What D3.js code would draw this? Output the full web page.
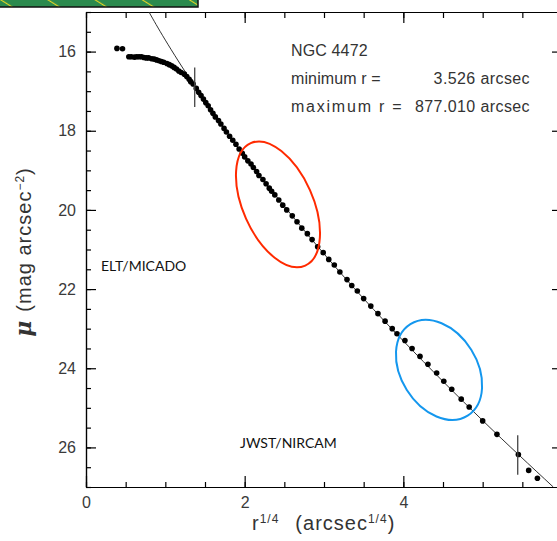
<!DOCTYPE html>
<html>
<head>
<meta charset="utf-8">
<script src="https://cdn.jsdelivr.net/npm/d3@7"></script>
<style>
  body { margin: 0; background: #fff; }
  .tick text { font-family: "Liberation Sans", sans-serif; font-size: 16px; fill: #3a3a3a; }
  .axis path, .axis line { stroke: #000; stroke-width: 1.2; }
  .note { font-family: "Liberation Sans", sans-serif; font-size: 16px; fill: #333; letter-spacing: 0.4px; }
  .title { font-family: "Liberation Sans", sans-serif; font-size: 20px; fill: #333; letter-spacing: 1px; }
  .tag { font-family: Lato, sans-serif; font-size: 14px; fill: #111; }
</style>
</head>
<body>
<div id="chart"></div>
<script>
// surface brightness profile of NGC 4472
const r4Values = [
  0.39, 0.46, 0.54, 0.57, 0.61, 0.64, 0.67, 0.70, 0.73, 0.76, 0.79, 0.83, 0.86, 0.89,
  0.92, 0.95, 0.98, 1.02, 1.05, 1.08, 1.11, 1.14, 1.17, 1.20, 1.24, 1.27, 1.30, 1.32,
  1.35, 1.39, 1.42, 1.45, 1.48, 1.51, 1.54, 1.57, 1.60, 1.63, 1.67, 1.70, 1.74, 1.77,
  1.81, 1.85, 1.89, 1.93, 1.97, 2.00, 2.04, 2.08, 2.11, 2.15, 2.18, 2.23, 2.27, 2.31,
  2.34, 2.38, 2.43, 2.48, 2.53, 2.60, 2.66, 2.72, 2.79, 2.85, 2.92, 2.99, 3.06, 3.13,
  3.20, 3.29, 3.35, 3.42, 3.50, 3.59, 3.68, 3.77, 3.86, 3.92, 4.02, 4.11, 4.21, 4.31,
  4.42, 4.51, 4.61, 4.73, 4.83, 5.00, 5.18, 5.45, 5.58, 5.69
];
const muValues = [
  15.92, 15.93, 16.13, 16.13, 16.14, 16.13, 16.13, 16.13, 16.15, 16.16, 16.16, 16.18, 16.19, 16.21,
  16.23, 16.25, 16.27, 16.30, 16.33, 16.36, 16.40, 16.44, 16.49, 16.53, 16.57, 16.63, 16.70, 16.76,
  16.82, 16.93, 17.03, 17.11, 17.20, 17.29, 17.37, 17.47, 17.56, 17.65, 17.74, 17.83, 17.94, 18.03,
  18.14, 18.24, 18.34, 18.46, 18.57, 18.66, 18.76, 18.84, 18.93, 19.03, 19.13, 19.23, 19.34, 19.45,
  19.53, 19.62, 19.75, 19.88, 20.00, 20.15, 20.30, 20.46, 20.60, 20.75, 20.93, 21.08, 21.25, 21.39,
  21.57, 21.76, 21.91, 22.05, 22.24, 22.43, 22.62, 22.81, 23.00, 23.13, 23.30, 23.50, 23.70, 23.90,
  24.12, 24.33, 24.53, 24.78, 24.98, 25.33, 25.67, 26.18, 26.58, 26.78
];

// fitted profile curve
const fitR4 = [0.794, 1.0, 1.375, 2.0, 3.0, 4.0, 5.0, 5.89];
const fitMu = [15.0, 15.71, 16.89, 18.64, 21.11, 23.31, 25.32, 27.0];

// fit range markers
const markerR = [3.526, 877.010];
const markerMu = [16.9, 26.19];

// highlighted regions
const regionR4 = [2.42, 4.45];
const regionMu = [19.86, 24.04];
const regionColor = ["#ff2a00", "#1497ee"];

const yTickLabels = [16, 18, 20, 22, 24, 26];
const xTickLabels = [0, 2, 4];

const width = 557, height = 541;
const margin = { top: 12, left: 86, right: -5, bottom: 54 };
const chartWidth = width - margin.left - margin.right;
const chartHeight = height - margin.top - margin.bottom;

const x = d3.scaleLinear().domain([0, 6]).range([0, chartWidth]);
const y = d3.scaleLinear().domain([15, 27]).range([0, chartHeight]);

const svg = d3.select("#chart").append("svg")
  .attr("width", width)
  .attr("height", height);

// hatched green strip at the top left
const defs = svg.append("defs");
const pat = defs.append("pattern")
  .attr("id", "hatch")
  .attr("patternUnits", "userSpaceOnUse")
  .attr("width", 25).attr("height", 25)
  .attr("patternTransform", "rotate(-58)");
pat.append("rect").attr("width", 25).attr("height", 25).attr("fill", "#2b8a4e");
pat.append("line").attr("x1", 0).attr("y1", 0).attr("x2", 0).attr("y2", 25)
  .attr("stroke", "#e4d424").attr("stroke-width", 2.2);
svg.append("rect").attr("x", -2).attr("y", -2).attr("width", 200).attr("height", 9)
  .attr("fill", "url(#hatch)").attr("stroke", "#111").attr("stroke-width", 1.5);

defs.append("clipPath").attr("id", "plotclip")
  .append("rect").attr("width", chartWidth).attr("height", chartHeight);

const chart = svg.append("g")
  .attr("transform", "translate(" + margin.left + "," + margin.top + ")");

// axes, ticks pointing into the frame
const minorY = d3.range(15, 27.01, 0.5);
const minorX = d3.range(0, 6.01, 0.5);

chart.append("g").attr("class", "axis")
  .call(d3.axisLeft(y).tickValues(minorY).tickSize(-5).tickSizeOuter(0).tickFormat(""));
chart.append("g").attr("class", "axis")
  .call(d3.axisLeft(y).tickValues(yTickLabels).tickSize(-10).tickSizeOuter(0).tickPadding(10).tickFormat(d3.format("d")));

chart.append("g").attr("class", "axis")
  .attr("transform", "translate(" + chartWidth + ",0)")
  .call(d3.axisRight(y).tickValues(minorY).tickSize(-5).tickSizeOuter(0).tickFormat(""));
chart.append("g").attr("class", "axis")
  .attr("transform", "translate(" + chartWidth + ",0)")
  .call(d3.axisRight(y).tickValues(yTickLabels).tickSize(-10).tickSizeOuter(0).tickFormat(""));

chart.append("g").attr("class", "axis")
  .attr("transform", "translate(0," + chartHeight + ")")
  .call(d3.axisBottom(x).tickValues(minorX).tickSize(-5).tickSizeOuter(0).tickFormat(""));
chart.append("g").attr("class", "axis")
  .attr("transform", "translate(0," + chartHeight + ")")
  .call(d3.axisBottom(x).tickValues(xTickLabels).tickSize(-11).tickSizeOuter(0).tickPadding(10).tickFormat(d3.format("d")));

chart.append("g").attr("class", "axis")
  .call(d3.axisTop(x).tickValues(minorX).tickSize(-6).tickSizeOuter(0).tickFormat(""));
chart.append("g").attr("class", "axis")
  .call(d3.axisTop(x).tickValues([2, 4]).tickSize(-11).tickSizeOuter(0).tickFormat(""));

// fitted line
const fitData = fitR4.map((d, i) => ({ r4: d, mu: fitMu[i] }));
const line = d3.line()
  .curve(d3.curveNatural)
  .x(d => x(d.r4))
  .y(d => y(d.mu));

chart.append("path")
  .attr("d", line(fitData))
  .attr("clip-path", "url(#plotclip)")
  .attr("fill", "none")
  .attr("stroke", "#333")
  .attr("stroke-width", 1);

// data points
const points = r4Values.map((d, i) => ({ r4: d, mu: muValues[i] }));
chart.selectAll(".pt")
  .data(points)
  .join("circle")
  .attr("class", "pt")
  .attr("cx", d => x(d.r4))
  .attr("cy", d => y(d.mu))
  .attr("r", 2.8)
  .attr("fill", "#000");

// min / max radius markers
markerR.forEach(function(r, i) {
  let xr = Math.pow(r, 0.25);
  chart.append("line")
    .attr("x1", x(xr)).attr("x2", x(xr))
    .attr("y1", y(markerMu[i] - 0.5)).attr("y2", y(markerMu[i] + 0.5))
    .attr("stroke", "#444")
    .attr("stroke-width", 1.3);
});

// ellipses around the two regions
const ellipseStyle = [
  { rx: 35, ry: 67, angle: -24 },
  { rx: 38, ry: 54, angle: -32 }
];
regionR4.forEach(function(r4, i) {
  chart.append("ellipse")
    .attr("transform", "translate(" + x(r4) + "," + y(regionMu[i]) + ") rotate(" + ellipseStyle[i].angle + ")")
    .attr("rx", ellipseStyle[i].rx)
    .attr("ry", ellipseStyle[i].ry)
    .attr("fill", "none")
    .attr("stroke", regionColor[i])
    .attr("stroke-width", 2);
});

// annotation text
chart.append("text").attr("class", "note").attr("x", 205).attr("y", 44)
  .attr("textLength", 77).text("NGC 4472");
chart.append("text").attr("class", "note").attr("x", 205).attr("y", 72)
  .attr("textLength", 90).text("minimum r =");
chart.append("text").attr("class", "note").attr("x", 444).attr("y", 72).attr("text-anchor", "end").text("3.526 arcsec");
chart.append("text").attr("class", "note").attr("x", 205).attr("y", 100)
  .attr("textLength", 111).text("maximum r =");
chart.append("text").attr("class", "note").attr("x", 444).attr("y", 100).attr("text-anchor", "end").text("877.010 arcsec");

chart.append("text").attr("class", "tag").attr("x", 15).attr("y", 259).text("ELT/MICADO");
chart.append("text").attr("class", "tag").attr("x", 154).attr("y", 436).text("JWST/NIRCAM");

// axis titles
const xTitle = svg.append("text")
  .attr("class", "title")
  .attr("x", 252).attr("y", 530);
xTitle.append("tspan").text("r");
xTitle.append("tspan").attr("font-size", 12).attr("dy", -7).text("1/4");
xTitle.append("tspan").attr("dy", 7).attr("dx", 16).text("(arcsec");
xTitle.append("tspan").attr("font-size", 12).attr("dy", -7).text("1/4");
xTitle.append("tspan").attr("dy", 7).text(")");

const yTitle = svg.append("text")
  .attr("class", "title")
  .attr("transform", "translate(31,252) rotate(-90)")
  .attr("text-anchor", "middle");
yTitle.append("tspan").attr("font-weight", "bold").attr("font-style", "italic").attr("font-family", "DejaVu Serif").attr("font-size", 22).text("μ");
yTitle.append("tspan").attr("dx", 8).text("(mag arcsec");
yTitle.append("tspan").attr("font-size", 12).attr("dy", -7).text("−2");
yTitle.append("tspan").attr("dy", 7).text(")");
</script>
</body>
</html>
